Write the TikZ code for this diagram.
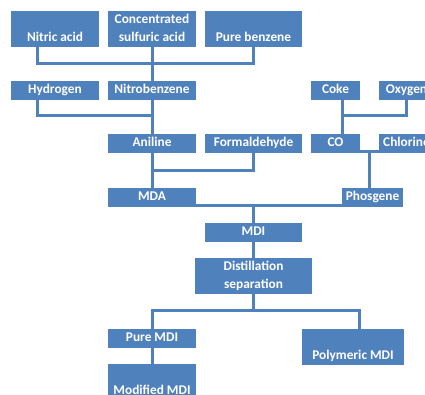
\documentclass[tikz,border=0pt]{standalone}
\usepackage{fontspec}
\setmainfont{Carlito}
\usepackage{tikz}
\usetikzlibrary{calc}
\definecolor{boxblue}{HTML}{4F81BD}
\tikzstyle{base}=[x=0.75pt, y=-0.75pt, inner sep=0pt, outer sep=0pt]
\tikzstyle{boxbase}=[fill=boxblue, text=white, anchor=north west, font=\bfseries\fontsize{10}{13.5}\selectfont]
\tikzstyle{box}=[boxbase, text height=9.45pt, text depth=4.05pt, minimum height=13.9pt]
\tikzstyle{tallbox}=[boxbase, align=center]
\tikzstyle{link}=[draw=boxblue, line width=2.25pt]
\begin{document}
\begin{tikzpicture}[base]
    \clip (0,0) rectangle (425,395);
    \fill [white] (0,0) rectangle (425,395);
    % raw materials
    \node [tallbox, minimum width=66pt] (nitric) at (11,11) {\strut\\Nitric acid\strut};
    \node [tallbox, minimum width=66pt] (sulfuric) at (108,11) {\strut Concentrated\\sulfuric acid\strut};
    \node [tallbox, minimum width=72.75pt] (benzene) at (205,11) {\strut\\Pure benzene\strut};
    \node [box, minimum width=66pt] (hydrogen) at (11,81) {Hydrogen};
    \node [box, minimum width=66pt] (nitro) at (108,81) {Nitrobenzene};
    \node [box, minimum width=36.75pt] (coke) at (311,81) {Coke};
    \node [box, minimum width=41.25pt] (oxygen) at (379,81) {Oxygen};
    \node [box, minimum width=66pt] (aniline) at (108,134) {Aniline};
    \node [box, minimum width=72.75pt] (formal) at (205,134) {Formaldehyde};
    \node [box, minimum width=36.75pt] (co) at (311,134) {CO};
    \node [box, minimum width=41.25pt] (chlorine) at (379,134) {Chlorine};
    \node [box, minimum width=66pt] (mda) at (108,188) {MDA};
    \node [box, minimum width=45.75pt] (phosgene) at (342,188) {Phosgene};
    % products
    \node [box, minimum width=72.75pt] (mdi) at (205,223) {MDI};
    \node [tallbox, minimum width=87.75pt] (distill) at (195,258) {\strut Distillation\\separation\strut};
    \node [box, minimum width=66pt] (puremdi) at (108,329) {Pure MDI};
    \node [tallbox, minimum width=76.5pt] (polymdi) at (302,329) {\strut\\Polymeric MDI\strut};
    \node [tallbox, minimum width=66pt] (modmdi) at (108,364) {\strut\\Modified MDI\strut};

    \coordinate (nitrojoin) at ($(sulfuric.south)!0.5!(nitro.north)$);
    \draw [link] ([xshift=-13.1pt]nitric.south) |- (nitrojoin) -| (benzene.south);
    \draw [link] (sulfuric.south) -- (nitro.north);
    \coordinate (anilinejoin) at (nitro.south |- 0,116);
    \draw [link] ([xshift=-13.1pt]hydrogen.south) |- (anilinejoin);
    \draw [link] (nitro.south) -- (aniline.north);
    \draw [link] ([xshift=4.9pt]coke.south) -- ([xshift=4.9pt]co.north);
    \draw [link] (oxygen.south) |- ([xshift=4.9pt]coke.south |- anilinejoin);
    \coordinate (mdajoin) at (aniline.south |- 0,171);
    \draw [link] (formal.south) |- (mdajoin);
    \draw [link] (aniline.south) -- (mda.north);
    \coordinate (phosjoin) at ($(co.south east)!0.5!(chlorine.south west)$);
    \draw [link] ([yshift=0.6pt]co.south east) -- ([yshift=0.6pt]chlorine.south west);
    \draw [link] (phosjoin) -- (phosjoin |- phosgene.north);
    \draw [link] ([yshift=0.6pt]mda.south east) -- ([yshift=0.6pt]phosgene.south west);
    \draw [link] (mdi.north |- mda.south) -- (mdi.north);
    \draw [link] (mdi.south) -- (distill.north);
    \coordinate (splitjoin) at (distill.south |- 0,311);
    \draw [link] (splitjoin) -- (distill.south);
    \draw [link] (puremdi.north) |- (splitjoin) -| ([xshift=4.5pt]polymdi.north);
    \draw [link] (puremdi.south) -- (modmdi.north);
\end{tikzpicture}
\end{document}
